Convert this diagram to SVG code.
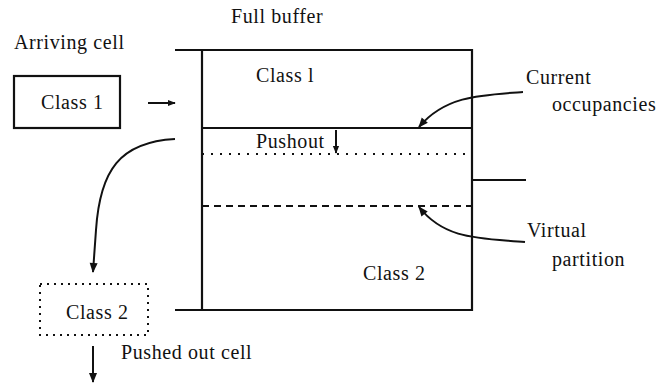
<svg xmlns="http://www.w3.org/2000/svg" width="656" height="386" viewBox="0 0 656 386">
<style>
text{font-family:"Liberation Serif","Times New Roman",serif;font-size:20px;letter-spacing:0.6px;fill:#111}
.s{fill:none;stroke:#111;stroke-width:2.2}
.a{fill:none;stroke:#111;stroke-width:2}
</style>
<defs>
<marker id="ah" viewBox="0 0 10 10" refX="9" refY="5" markerWidth="8" markerHeight="8" markerUnits="userSpaceOnUse" orient="auto">
<path d="M0,1 L10,5 L0,9 z" fill="#111"/>
</marker>
<marker id="ahb" viewBox="0 0 10 10" refX="9" refY="5" markerWidth="11" markerHeight="10" markerUnits="userSpaceOnUse" orient="auto">
<path d="M0,1 L10,5 L0,9 z" fill="#111"/>
</marker>
</defs>
<rect width="656" height="386" fill="#fff"/>
<g id="buffer">
<path class="s" d="M175,50 H472 V310 H175"/>
<path class="s" d="M202,50 V310"/>
<path class="s" d="M202,128 H472"/>
<path class="s" d="M472,180 H526"/>
<path d="M202,154 H472" fill="none" stroke="#111" stroke-width="2" stroke-dasharray="2,7"/>
<path d="M202,206 H472" fill="none" stroke="#111" stroke-width="2" stroke-dasharray="7,5"/>
<text x="231" y="23">Full buffer</text>
<text x="256" y="82">Class l</text>
<text x="256" y="148">Pushout</text>
<text x="363" y="280">Class 2</text>
</g>
<g id="arriving">
<text x="14" y="49">Arriving cell</text>
<rect class="s" x="14" y="76" width="106" height="52"/>
<text x="41" y="109">Class 1</text>
</g>
<g id="pushed">
<rect x="40" y="284" width="108" height="51" fill="none" stroke="#111" stroke-width="2" stroke-dasharray="2,5"/>
<text x="66" y="319">Class 2</text>
<text x="121" y="359">Pushed out cell</text>
</g>
<g id="labels">
<text x="526" y="84">Current</text>
<text x="552" y="111">occupancies</text>
<text x="527" y="237">Virtual</text>
<text x="552" y="266">partition</text>
</g>
<g id="connectors">
<path class="a" d="M148,103 H175" marker-end="url(#ah)"/>
<path class="a" d="M175,139 C120,142 100,170 96,230 L93,272" marker-end="url(#ahb)"/>
<path class="a" d="M93,346 V382" marker-end="url(#ahb)"/>
<path class="a" d="M336,130 V153" marker-end="url(#ah)"/>
<path class="a" d="M523,92 C480,95 445,96 419,127" marker-end="url(#ahb)"/>
<path class="a" d="M525,242 C480,238 445,240 419,207" marker-end="url(#ahb)"/>
</g>
</svg>
